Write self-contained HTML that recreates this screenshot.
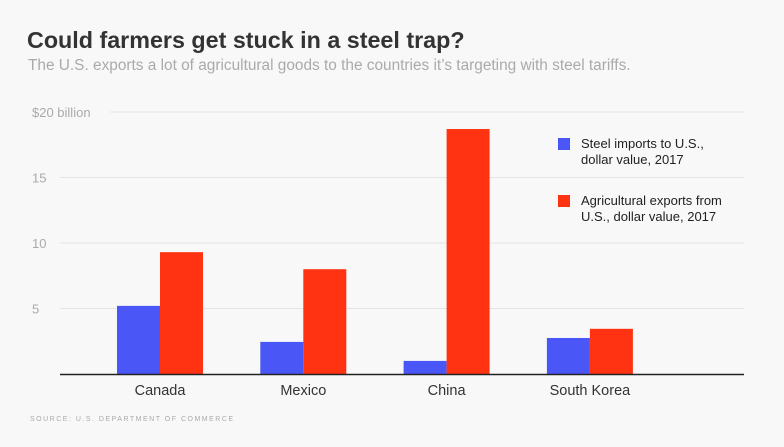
<!DOCTYPE html>
<html><head><meta charset="utf-8"><style>
body{margin:0;width:784px;height:447px;background:#f8f8f8;font-family:"Liberation Sans",sans-serif;overflow:hidden;position:relative}
.t{position:absolute;white-space:nowrap}
</style></head><body>
<div class="t" style="left:27px;top:27px;font-size:23.3px;font-weight:bold;color:#333">Could farmers get stuck in a steel trap?</div>
<div class="t" style="left:28px;top:57px;font-size:15.4px;color:#aaa">The U.S. exports a lot of agricultural goods to the countries it’s targeting with steel tariffs.</div>
<svg id="c" width="784" height="447" style="position:absolute;left:0;top:0"></svg>
<div class="t" style="left:30px;top:416px;font-size:7px;letter-spacing:1.5px;color:#aaa">SOURCE: U.S. DEPARTMENT OF COMMERCE</div>
<script>
const categories=["Canada","Mexico","China","South Korea"];
const steel=[5.2,2.45,1.0,2.75];
const agri=[9.3,8.0,18.7,3.45];
const ticks=[5,10,15,20];
const tickLabels=["5","10","15","$20 billion"];
const svg=document.getElementById('c');const ns="http://www.w3.org/2000/svg";
function y(v){return 374-v*13.1;}
function x(i){return 160+i*143.3;}
function mk(t,a){const e=document.createElementNS(ns,t);for(const k in a)e.setAttribute(k,a[k]);svg.appendChild(e);return e;}
ticks.forEach((t,i)=>{
 const g=mk('line',{x1:i==3?110:60,x2:744,y1:y(t),y2:y(t),stroke:'#e4e4e4','stroke-width':1});
 
 
 const l=mk('text',{x:32,y:y(t)+5,'font-size':13,fill:'#aaa','font-family':'Liberation Sans'});l.textContent=tickLabels[i];
 
 
});
categories.forEach((c,i)=>{
 const b=mk('rect',{x:x(i)-43,y:y(steel[i]),width:43,height:374-y(steel[i]),fill:'#4b56f6'});
 
 
 const r=mk('rect',{x:x(i),y:y(agri[i]),width:43,height:374-y(agri[i]),fill:'#ff3311'});
 
 
 const t=mk('text',{x:x(i),y:395,'text-anchor':'middle','font-size':14.5,fill:'#333','font-family':'Liberation Sans'});t.textContent=c;
 
 
});
const ax=mk('line',{x1:60,x2:744,y1:374.5,y2:374.5,stroke:'#222','stroke-width':1.5});


const legend=[["#4b56f6","Steel imports to U.S.,","dollar value, 2017",139],["#ff3311","Agricultural exports from","U.S., dollar value, 2017",196]];
legend.forEach(l=>{
 const r=mk('rect',{x:558,y:l[3]-1,width:12,height:12,fill:l[0]});
 
 
 [l[1],l[2]].forEach((s,j)=>{const t=mk('text',{x:581,y:l[3]+9+j*16,'font-size':13,fill:'#222','font-family':'Liberation Sans'});t.textContent=s;
 
 });
});
</script>
</body></html>
